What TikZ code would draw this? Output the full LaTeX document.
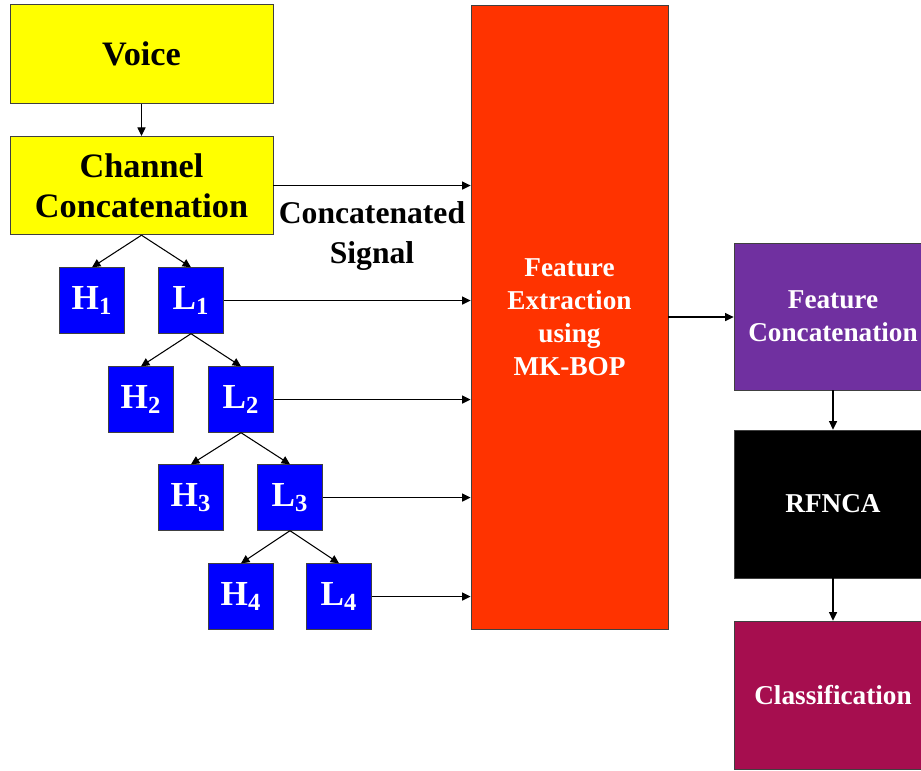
\documentclass[tikz,border=0pt]{standalone}
\usepackage{fontspec}
\setmainfont{Liberation Serif}
\usetikzlibrary{arrows.meta}

\definecolor{voiceyellow}{HTML}{FFFF00}
\definecolor{bandblue}{HTML}{0000FF}
\definecolor{extractred}{HTML}{FF3300}
\definecolor{concatpurple}{HTML}{7030A0}
\definecolor{classmagenta}{HTML}{A60E4F}

\begin{document}
\begin{tikzpicture}[
        block/.style={rectangle, draw=black!75, line width=0.5pt, inner sep=0pt, align=center},
        yellowbox/.style={block, fill=voiceyellow, minimum width=5.26cm, minimum height=1.97cm, font=\bfseries\fontsize{19.5}{23}\selectfont},
        band/.style={block, fill=bandblue, text=white, minimum size=1.31cm, font=\bfseries\fontsize{20}{24}\selectfont},
        stage/.style={block, text=white, minimum width=3.96cm, minimum height=2.96cm, font=\bfseries\fontsize{15.5}{18.7}\selectfont},
        arrow/.style={-{Triangle[length=4.8pt, width=4.6pt]}, line width=0.6pt}
    ]

    % Frame of the figure
    \useasboundingbox (0,0) rectangle (18.42,-15.4);

    % Input blocks
    \node[yellowbox] (voice) at (2.83,-1.08) {Voice};
    \node[yellowbox] (chan) at (2.83,-3.71) {Channel\\Concatenation};

    % Wavelet decomposition tree
    \node[band] (h1) at (1.84,-6.01) {H\textsubscript{1}};
    \node[band] (l1) at (3.82,-6.01) {L\textsubscript{1}};
    \node[band] (h2) at (2.82,-7.99) {H\textsubscript{2}};
    \node[band] (l2) at (4.82,-7.99) {L\textsubscript{2}};
    \node[band] (h3) at (3.82,-9.95) {H\textsubscript{3}};
    \node[band] (l3) at (5.80,-9.95) {L\textsubscript{3}};
    \node[band] (h4) at (4.82,-11.93) {H\textsubscript{4}};
    \node[band] (l4) at (6.78,-11.93) {L\textsubscript{4}};

    % Feature extraction block
    \node[stage, fill=extractred, minimum width=3.94cm, minimum height=12.48cm] (feat) at (11.39,-6.34) {Feature\\Extraction\\using\\MK-BOP};

    % Right column
    \node[stage, fill=concatpurple, minimum height=2.94cm] (fcat) at (16.66,-6.33) {Feature\\Concatenation};
    \node[stage, fill=black] (rfnca) at (16.66,-10.08) {RFNCA};
    \node[stage, fill=classmagenta] (cls) at (16.66,-13.9) {Classification};

    % Arrows - input chain
    \draw[arrow] (voice) -- (chan);
    \draw[arrow] (chan.south) -- (h1.north);
    \draw[arrow] (chan.south) -- (l1.north);
    \draw[arrow] (l1.south) -- (h2.north);
    \draw[arrow] (l1.south) -- (l2.north);
    \draw[arrow] (l2.south) -- (h3.north);
    \draw[arrow] (l2.south) -- (l3.north);
    \draw[arrow] (l3.south) -- (h4.north);
    \draw[arrow] (l3.south) -- (l4.north);

    % Arrows into feature extraction
    \draw[arrow] (chan.east) -- (chan.east -| feat.west)
        node[midway, below=0.2cm, font=\bfseries\fontsize{18}{22.5}\selectfont, align=center] (siglabel) {Concatenated\\Signal};
    \draw[arrow] (l1.east) -- (l1.east -| feat.west);
    \draw[arrow] (l2.east) -- (l2.east -| feat.west);
    \draw[arrow] (l3.east) -- (l3.east -| feat.west);
    \draw[arrow] (l4.east) -- (l4.east -| feat.west);

    % Arrows - right column
    \draw[arrow] (feat.east) -- (feat.east -| fcat.west);
    \draw[arrow] (fcat) -- (rfnca);
    \draw[arrow] (rfnca) -- (cls);

\end{tikzpicture}
\end{document}
